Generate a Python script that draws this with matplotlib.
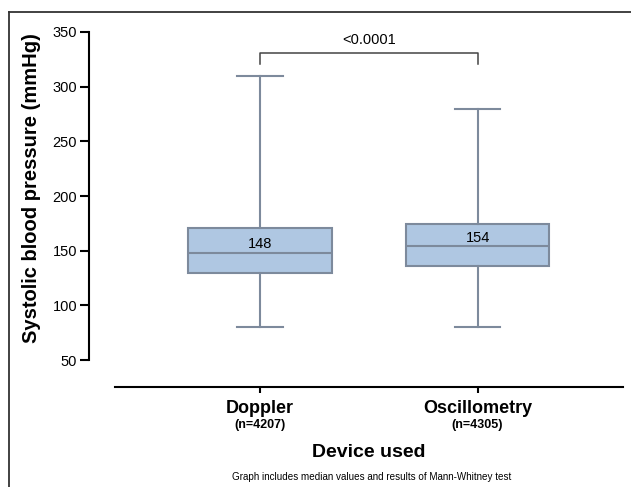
import matplotlib
matplotlib.use("Agg")
import matplotlib.pyplot as plt
from matplotlib.lines import Line2D

plt.rcParams['font.family'] = ['Liberation Sans', 'DejaVu Sans']

# box statistics
devices = ["Doppler", "Oscillometry"]
counts = ["(n=4207)", "(n=4305)"]
medians = [148, 154]
q1 = [130, 136]
q3 = [171, 174]
whis_low = [80, 80]
whis_high = [310, 280]
p_text = "<0.0001"

line_col = "#7d8a9c"
fill_col = "#afc7e2"

fig = plt.figure(figsize=(6.31, 4.87), dpi=100)
ax = fig.add_axes([0.141, 0.2053, 0.846, 0.729])

stats = []
for i in range(len(devices)):
    stats.append({"med": medians[i], "q1": q1[i], "q3": q3[i],
                  "whislo": whis_low[i], "whishi": whis_high[i],
                  "fliers": [], "label": devices[i]})

ax.bxp(stats, positions=[0, 1], widths=0.66, patch_artist=True,
       showfliers=False, capwidths=0.21,
       boxprops=dict(facecolor=fill_col, edgecolor=line_col, linewidth=1.5),
       medianprops=dict(color=line_col, linewidth=1.5),
       whiskerprops=dict(color=line_col, linewidth=1.5),
       capprops=dict(color=line_col, linewidth=1.5))

# median labels
for i, m in enumerate(medians):
    ax.text(i, m + 1.5, str(m), ha='center', va='bottom', fontsize=10.5)

# significance bracket
ax.plot([0, 0, 1, 1], [320.5, 330.8, 330.8, 320.5], color="#444444", lw=1.1,
        clip_on=False)
ax.text(0.5, 336, p_text, ha='center', va='bottom', fontsize=10.5)

ax.set_xlim(-0.785, 1.667)
ax.set_ylim(25.3, 350)
ax.set_yticks(range(50, 351, 50))
ax.tick_params(axis='y', labelsize=10.5, length=6.5, width=1.5, pad=2)
ax.tick_params(axis='x', length=4, width=1.5, labelbottom=False)
ax.set_xticks([0, 1])

for s in ['top', 'right']:
    ax.spines[s].set_visible(False)
ax.spines['left'].set_bounds(50, 350)
ax.spines['left'].set_linewidth(1.5)
ax.spines['bottom'].set_bounds(-0.666, 1.667)
ax.spines['bottom'].set_linewidth(1.5)

ax.set_ylabel("Systolic blood pressure (mmHg)", fontsize=14.5, fontweight='bold')
ax.yaxis.set_label_coords(-0.09, 0.5606)

for i, (d, n) in enumerate(zip(devices, counts)):
    ax.text(i, -0.06, d, transform=ax.get_xaxis_transform(), ha='center',
            va='center', fontsize=13, fontweight='bold')
    ax.text(i, -0.107, n, transform=ax.get_xaxis_transform(), ha='center',
            va='center', fontsize=9, fontweight='bold')

ax.text(0.5, -0.184, "Device used", transform=ax.get_xaxis_transform(),
        ha='center', va='center', fontsize=14, fontweight='bold')
fig.text(372 / 631, 1 - 477 / 487,
         "Graph includes median values and results of Mann-Whitney test",
         ha='center', va='center', fontsize=7.1)

# outer frame, only top and left edges fall inside the image
top = 1 - 12 / 487
left = 9 / 631
fig.add_artist(Line2D([left, 1], [top, top], color="#333333", lw=1.3))
fig.add_artist(Line2D([left, left], [0, top], color="#333333", lw=1.3))

fig.savefig("out.png", dpi=100)
